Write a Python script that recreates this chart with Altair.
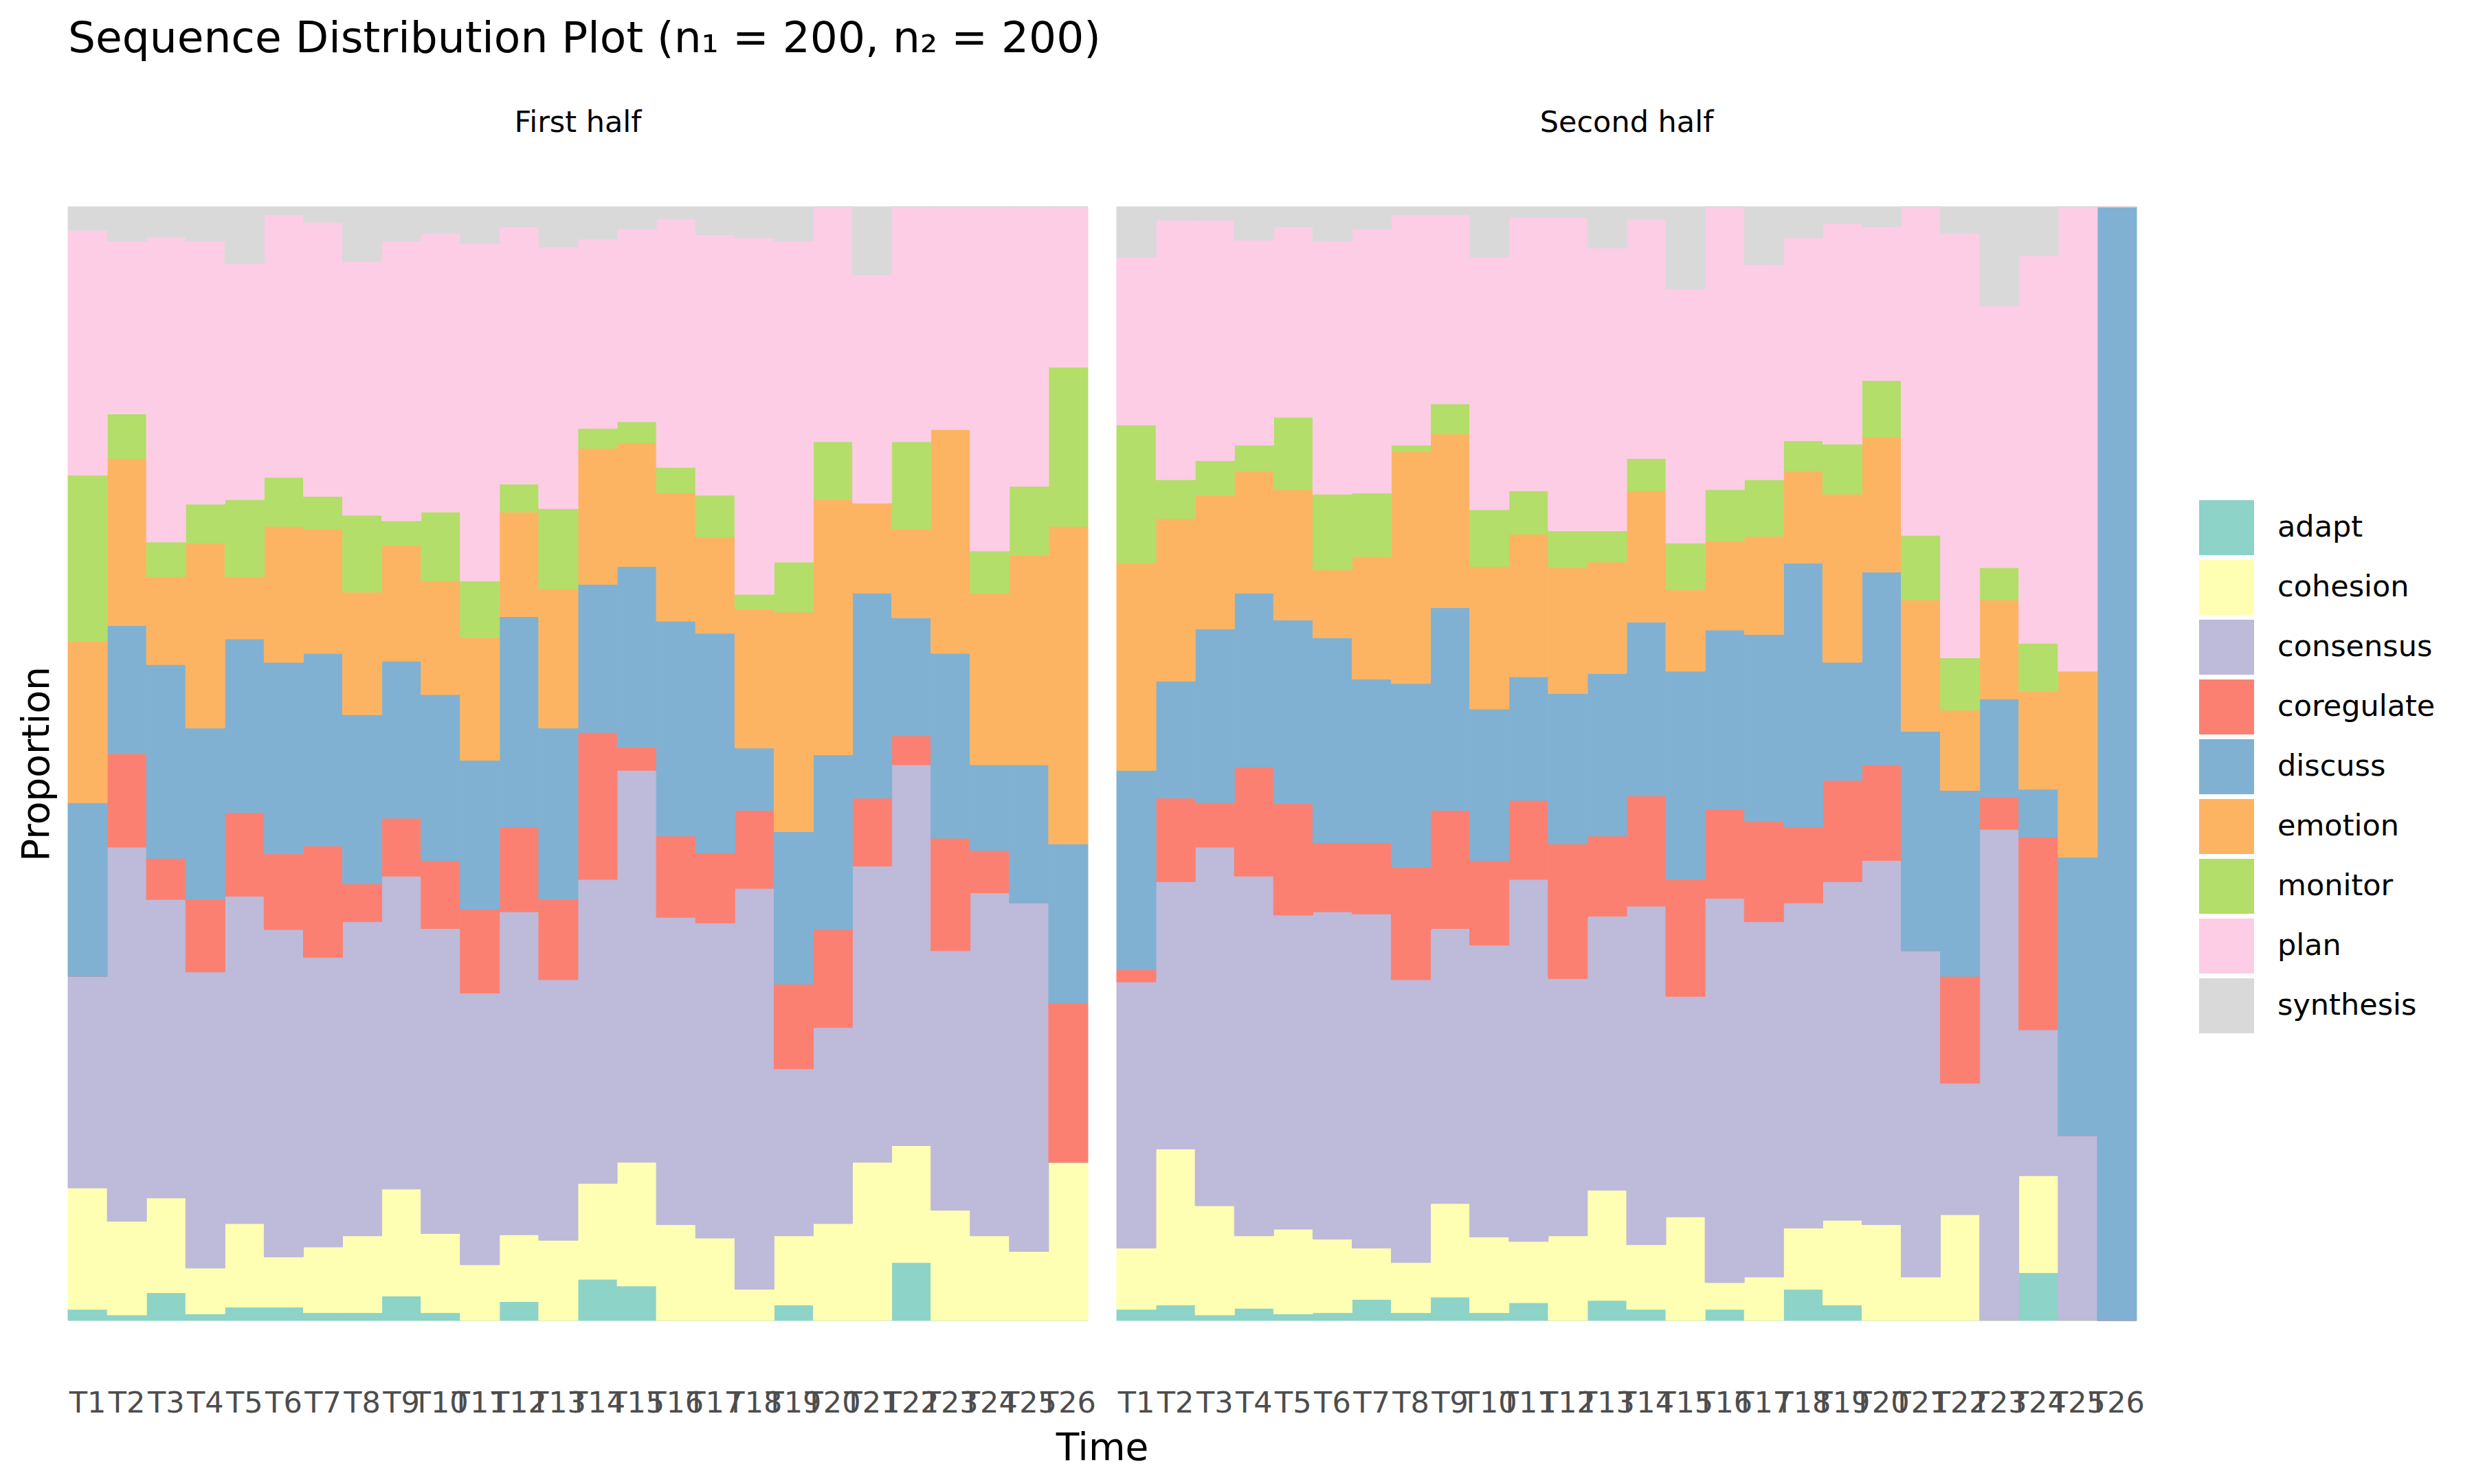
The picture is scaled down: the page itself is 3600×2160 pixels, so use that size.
import altair as alt
import pandas as pd

times = ["T1", "T2", "T3", "T4", "T5", "T6", "T7", "T8", "T9", "T10", "T11", "T12", "T13",
         "T14", "T15", "T16", "T17", "T18", "T19", "T20", "T21", "T22", "T23", "T24", "T25", "T26"]
halves = ["First half", "Second half"]
states = ["adapt", "cohesion", "consensus", "coregulate", "discuss",
          "emotion", "monitor", "plan", "synthesis"]
colors = ["#8DD3C7", "#FFFFB3", "#BEBADA", "#FB8072", "#80B1D3",
          "#FDB462", "#B3DE69", "#FCCDE5", "#D9D9D9"]

# proportions per time point, first half
first_adapt = [.010, .005, .025, .006, .012, .012, .007, .007, .022, .007, 0, .017, 0,
               .037, .031, 0, 0, 0, .014, 0, 0, .052, 0, 0, 0, 0]
first_cohesion = [.109, .084, .085, .041, .075, .045, .059, .069, .096, .071, .050, .060, .072,
                  .086, .111, .086, .074, .028, .062, .087, .142, .105, .099, .076, .062, .142]
first_consensus = [.190, .336, .268, .266, .294, .294, .260, .282, .281, .274, .244, .290, .234,
                   .273, .352, .276, .283, .360, .150, .176, .266, .342, .233, .308, .313, 0]
first_coregulate = [0, .084, .037, .065, .075, .068, .100, .034, .052, .061, .075, .076, .072,
                    .132, .021, .073, .063, .070, .076, .088, .061, .026, .101, .038, 0, .143]
first_discuss = [.156, .115, .174, .154, .156, .172, .173, .152, .141, .149, .134, .189, .154,
                 .133, .162, .193, .197, .056, .137, .157, .184, .106, .166, .077, .124, .143]
first_emotion = [.145, .150, .079, .166, .056, .122, .112, .110, .104, .102, .110, .094, .125,
                 .122, .111, .115, .086, .125, .197, .229, .081, .080, .201, .154, .188, .285]
first_monitor = [.149, .040, .031, .035, .069, .044, .029, .069, .022, .062, .051, .025, .072,
                 .018, .019, .023, .038, .013, .045, .052, 0, .078, 0, .038, .062, .143]
first_plan = [.220, .155, .274, .236, .212, .236, .246, .228, .251, .250, .303, .231, .235,
              .170, .173, .223, .234, .320, .288, .211, .205, .211, .200, .309, .251, .144]
first_synthesis = [.021, .031, .027, .031, .051, .007, .014, .049, .031, .024, .033, .018, .036,
                   .029, .020, .011, .025, .028, .031, 0, .061, 0, 0, 0, 0, 0]

# proportions per time point, second half
second_adapt = [.010, .014, .005, .011, .006, .007, .019, .007, .021, .007, .016, 0, .018,
                .010, 0, .010, 0, .028, .014, 0, 0, 0, 0, .043, 0, 0]
second_cohesion = [.055, .140, .098, .065, .076, .066, .046, .045, .084, .068, .055, .076, .099,
                   .058, .093, .024, .039, .055, .076, .086, .039, .095, 0, .087, 0, 0]
second_consensus = [.239, .240, .322, .323, .282, .294, .300, .254, .247, .262, .325, .231, .246,
                    .304, .198, .345, .319, .292, .304, .327, .293, .118, .441, .131, .166, 0]
second_coregulate = [.011, .075, .040, .098, .100, .062, .064, .101, .106, .076, .071, .121, .072,
                     .099, .105, .080, .090, .068, .091, .086, 0, .096, .029, .173, 0, 0]
second_discuss = [.179, .105, .156, .156, .165, .184, .147, .165, .182, .136, .111, .135, .146,
                  .156, .187, .161, .168, .237, .106, .173, .197, .167, .088, .043, .250, 1.0]
second_emotion = [.186, .146, .120, .110, .117, .061, .110, .208, .156, .128, .128, .113, .100,
                  .118, .073, .080, .088, .083, .151, .121, .118, .072, .089, .088, .167, 0]
second_monitor = [.124, .035, .031, .023, .065, .068, .057, .006, .027, .051, .039, .033, .028,
                  .029, .042, .046, .051, .027, .045, .051, .058, .047, .029, .043, 0, 0]
second_plan = [.151, .233, .216, .184, .171, .227, .237, .207, .170, .227, .246, .282, .254,
               .215, .228, .254, .193, .182, .198, .138, .295, .381, .235, .348, .417, 0]
second_synthesis = [.045, .012, .012, .030, .018, .031, .020, .007, .007, .045, .009, .009, .037,
                    .011, .074, 0, .052, .028, .015, .018, 0, .024, .089, .044, 0, 0]

series = {
    "First half": [first_adapt, first_cohesion, first_consensus, first_coregulate, first_discuss,
                   first_emotion, first_monitor, first_plan, first_synthesis],
    "Second half": [second_adapt, second_cohesion, second_consensus, second_coregulate,
                    second_discuss, second_emotion, second_monitor, second_plan, second_synthesis],
}

rows = []
for half in halves:
    for k, (state, vals) in enumerate(zip(states, series[half])):
        for t, v in zip(times, vals):
            rows.append({"half": half, "time": t, "state": state, "idx": k, "value": v})
df = pd.DataFrame(rows)

color_scale = alt.Scale(domain=states, range=colors)

base = alt.Chart(df).mark_bar(strokeWidth=1).encode(
    x=alt.X("time:N", sort=times,
            scale=alt.Scale(paddingInner=0, paddingOuter=0),
            axis=alt.Axis(title=None, labelAngle=0, labelOverlap=False, labelFlush=False,
                          ticks=False, domain=False, grid=False,
                          labelFontSize=43, labelColor="#4D4D4D", labelPadding=98)),
    y=alt.Y("value:Q", stack="normalize",
            scale=alt.Scale(domain=[0, 1], nice=False, zero=True),
            axis=alt.Axis(title="Proportion", labels=False, ticks=False, domain=False,
                          grid=False, titleFontSize=55, titleFontWeight="normal",
                          titleColor="black", titlePadding=16)),
    color=alt.Color("state:N", scale=color_scale,
                    legend=alt.Legend(title=None, orient="none", legendX=3101, legendY=427,
                                      symbolType="square", symbolSize=6400,
                                      symbolStrokeWidth=0, symbolOpacity=1,
                                      labelFontSize=43, labelColor="black", labelLimit=0,
                                      labelOffset=34, rowPadding=7, padding=0)),
    stroke=alt.Stroke("state:N", scale=color_scale, legend=None),
    order=alt.Order("idx:Q", sort="ascending"),
).properties(width=1484, height=1621)

chart = base.facet(
    column=alt.Column("half:N", sort=halves,
                      header=alt.Header(title="Time", titleOrient="bottom",
                                        titleFontSize=55, titleColor="black",
                                        titleFontWeight="normal", titlePadding=8,
                                        labelOrient="top",
                                        labelFontSize=43, labelColor="black",
                                        labelPadding=99)),
    spacing=40,
).properties(
    title=alt.TitleParams("Sequence Distribution Plot (n\u2081 = 200, n\u2082 = 200)",
                          anchor="start", frame="group", fontSize=63,
                          fontWeight="normal", color="black", offset=69),
    padding={"left": 18, "top": 18, "right": 10, "bottom": 10},
).configure(
    font="DejaVu Sans",
).configure_view(stroke=None)

chart.save("out.html", embed_options={"renderer": "svg", "actions": False})
